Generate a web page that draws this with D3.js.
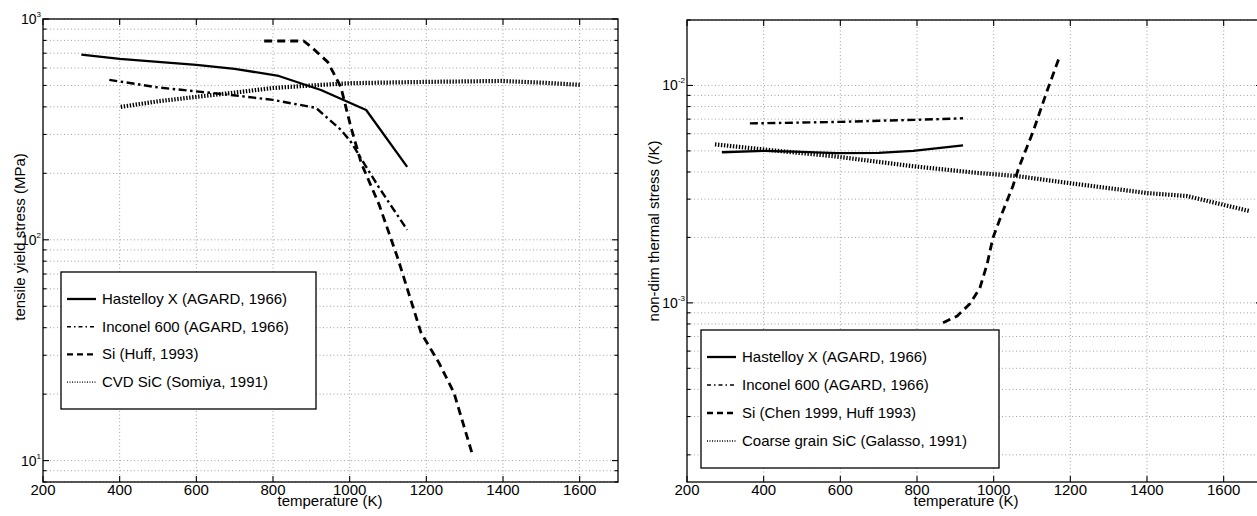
<!DOCTYPE html>
<html>
<head>
<meta charset="utf-8">
<script src="https://cdn.jsdelivr.net/npm/d3@7"></script>
<style>
  body { margin: 0; background: #fff; }
  svg { display: block; }
  text { font-family: "Liberation Sans", Arial, Helvetica, sans-serif; fill: #000; }
</style>
</head>
<body>
<div id="chart"></div>
<script>
// ---- data ----
const tempTicks = [200, 400, 600, 800, 1000, 1200, 1400, 1600];

// left panel: tensile yield stress (MPa)
const hastelloyYieldT = [300, 400, 500, 600, 700, 815, 925, 1043, 1150];
const hastelloyYield  = [690, 660, 640, 620, 595, 552, 477, 387, 214];
const inconelYieldT   = [373, 500, 600, 690, 800, 912, 977, 1003, 1075, 1150];
const inconelYield    = [530, 490, 470, 453, 430, 396, 315, 278, 174, 111];
const siYieldT        = [777, 880, 900, 943, 977, 1003, 1030, 1077, 1126, 1186, 1233, 1272, 1322];
const siYield         = [795, 795, 747, 638, 492, 325, 223, 144, 82, 38, 27.7, 20.3, 10.4];
const sicYieldT       = [403, 500, 600, 690, 800, 925, 1000, 1200, 1395, 1500, 1604];
const sicYield        = [400, 424, 444, 462, 487, 503, 512, 519, 524, 515, 503];

// right panel: non-dim thermal stress (/K)
const hastelloyStressT = [291, 400, 500, 591, 700, 790, 920];
const hastelloyStress  = [4.93e-3, 5.0e-3, 4.95e-3, 4.88e-3, 4.9e-3, 5.0e-3, 5.3e-3];
const inconelStressT   = [364, 500, 600, 700, 800, 920];
const inconelStress    = [6.69e-3, 6.75e-3, 6.8e-3, 6.88e-3, 6.95e-3, 7.06e-3];
const siStressT        = [868, 905, 938, 964, 983, 998, 1024, 1050, 1065, 1103, 1139, 1170];
const siStress         = [8.1e-4, 8.7e-4, 9.9e-4, 1.17e-3, 1.51e-3, 1.99e-3, 2.64e-3, 3.44e-3, 4.16e-3, 6.15e-3, 9.4e-3, 1.33e-2];
const sicStressT       = [273, 398, 581, 790, 957, 1061, 1200, 1400, 1504, 1669];
const sicStress        = [5.36e-3, 5.08e-3, 4.73e-3, 4.25e-3, 3.96e-3, 3.83e-3, 3.55e-3, 3.2e-3, 3.1e-3, 2.64e-3];

const leftLegend  = ["Hastelloy X (AGARD, 1966)", "Inconel 600 (AGARD, 1966)", "Si (Huff, 1993)", "CVD SiC (Somiya, 1991)"];
const rightLegend = ["Hastelloy X (AGARD, 1966)", "Inconel 600 (AGARD, 1966)", "Si (Chen 1999, Huff 1993)", "Coarse grain SiC (Galasso, 1991)"];

// line styles: solid, dash-dot, dashed, dotted
const plotStyles = [
  { w: 2.3, dash: null },
  { w: 2.4, dash: "8,3.5,2.5,3.5" },
  { w: 2.8, dash: "8,5" },
  { w: 4.2, dash: "1.4,1.6" }
];
const keyStyles = [
  { w: 2.3, dash: null },
  { w: 1.5, dash: "4,3,1.5,3" },
  { w: 2.3, dash: "6,4" },
  { w: 1.4, dash: "1,1.5" }
];

const W = 1257, H = 516;
const svg = d3.select("#chart").append("svg")
  .attr("width", W).attr("height", H);

function logTicks(lo, hi) {
  const out = [];
  for (let e = Math.floor(Math.log10(lo)); e <= Math.ceil(Math.log10(hi)); e++) {
    for (let m = 1; m <= 9; m++) {
      const v = m * Math.pow(10, e);
      if (v >= lo * 0.999 && v <= hi * 1.001) out.push({ v: v, major: m === 1, e: e });
    }
  }
  return out;
}

function drawPanel(p) {
  const x = d3.scaleLinear().domain([200, 1700]).range([p.x0, p.x1]);
  const y = d3.scaleLog().domain(p.yDomain).range([p.y1, p.y0]);
  const g = svg.append("g");
  const yt = logTicks(p.yDomain[0], p.yDomain[1]);

  // dotted grid
  const grid = g.append("g").attr("stroke", "#8a8a8a").attr("stroke-width", 0.8)
    .attr("stroke-dasharray", "1,2.5").attr("fill", "none");
  grid.selectAll(".gx").data(tempTicks.slice(1)).enter().append("line")
    .attr("x1", d => x(d)).attr("x2", d => x(d))
    .attr("y1", p.y0).attr("y2", p.y1);
  grid.selectAll(".gy").data(yt).enter().append("line")
    .attr("x1", p.x0).attr("x2", p.x1)
    .attr("y1", d => y(d.v)).attr("y2", d => y(d.v));

  // frame
  g.append("rect").attr("x", p.x0).attr("y", p.y0)
    .attr("width", p.x1 - p.x0).attr("height", p.y1 - p.y0)
    .attr("fill", "none").attr("stroke", "#000").attr("stroke-width", 1.3);

  // inward ticks
  const tk = g.append("g").attr("stroke", "#000").attr("stroke-width", 1.1);
  tempTicks.forEach(t => {
    tk.append("line").attr("x1", x(t)).attr("x2", x(t)).attr("y1", p.y1).attr("y2", p.y1 - 6);
    tk.append("line").attr("x1", x(t)).attr("x2", x(t)).attr("y1", p.y0).attr("y2", p.y0 + 6);
  });
  yt.forEach(d => {
    const len = d.major ? 6 : 3.5;
    tk.append("line").attr("x1", p.x0).attr("x2", p.x0 + len).attr("y1", y(d.v)).attr("y2", y(d.v));
    tk.append("line").attr("x1", p.x1).attr("x2", p.x1 - len).attr("y1", y(d.v)).attr("y2", y(d.v));
  });

  // tick labels
  g.selectAll(".xl").data(tempTicks).enter().append("text")
    .attr("x", d => x(d)).attr("y", p.y1 + 13)
    .attr("text-anchor", "middle").style("font-size", "15px")
    .text(d => d);
  yt.filter(d => d.major).forEach(d => {
    const t = g.append("text").attr("x", p.x0 - 2).attr("y", y(d.v) + 5)
      .attr("text-anchor", "end").style("font-size", "14px");
    t.append("tspan").text("10");
    t.append("tspan").attr("dy", -7).style("font-size", "8px").text(d.e);
  });

  // axis labels
  g.append("text").attr("x", p.xLabelX).attr("y", p.y1 + 24)
    .attr("text-anchor", "middle").style("font-size", "15px")
    .text("temperature (K)");
  g.append("text")
    .attr("transform", "translate(" + p.yLabelX + "," + p.yLabelY + ")rotate(-90)")
    .attr("text-anchor", "middle").style("font-size", "15px")
    .text(p.yLabel);

  // curves
  const line = d3.line().x(d => x(d[0])).y(d => y(d[1]));
  p.series.forEach((s, i) => {
    const pts = s.t.map((t, j) => [t, s.v[j]]);
    g.append("path").datum(pts)
      .attr("d", line)
      .attr("fill", "none").attr("stroke", "#000")
      .attr("stroke-width", plotStyles[i].w)
      .attr("stroke-dasharray", plotStyles[i].dash)
      .attr("stroke-linejoin", "round");
  });

  // legend
  const lg = g.append("g");
  lg.append("rect").attr("x", p.leg.x).attr("y", p.leg.y)
    .attr("width", p.leg.w).attr("height", p.leg.h)
    .attr("fill", "#fff").attr("stroke", "#000").attr("stroke-width", 1.3);
  p.legendNames.forEach((name, i) => {
    const cy = p.leg.y + p.leg.first + i * p.leg.step;
    lg.append("line")
      .attr("x1", p.leg.x + 6).attr("x2", p.leg.x + 35)
      .attr("y1", cy).attr("y2", cy)
      .attr("stroke", "#000").attr("stroke-width", keyStyles[i].w)
      .attr("stroke-dasharray", keyStyles[i].dash);
    lg.append("text").attr("x", p.leg.x + 41).attr("y", cy + 5)
      .style("font-size", "15px").text(name);
  });
}

drawPanel({
  x0: 43, x1: 618, y0: 19, y1: 482,
  yDomain: [8, 1000],
  xLabelX: 330, yLabelX: 25, yLabelY: 237,
  yLabel: "tensile yield stress (MPa)",
  legendNames: leftLegend,
  leg: { x: 61, y: 272, w: 255, h: 137, first: 27, step: 27.7 },
  series: [
    { t: hastelloyYieldT, v: hastelloyYield },
    { t: inconelYieldT, v: inconelYield },
    { t: siYieldT, v: siYield },
    { t: sicYieldT, v: sicYield }
  ]
});

drawPanel({
  x0: 687, x1: 1262, y0: 20, y1: 482,
  yDomain: [1.5e-4, 2e-2],
  xLabelX: 966, yLabelX: 659, yLabelY: 231,
  yLabel: "non-dim thermal stress (/K)",
  legendNames: rightLegend,
  leg: { x: 701, y: 330, w: 298, h: 138, first: 27, step: 28 },
  series: [
    { t: hastelloyStressT, v: hastelloyStress },
    { t: inconelStressT, v: inconelStress },
    { t: siStressT, v: siStress },
    { t: sicStressT, v: sicStress }
  ]
});
</script>
</body>
</html>
